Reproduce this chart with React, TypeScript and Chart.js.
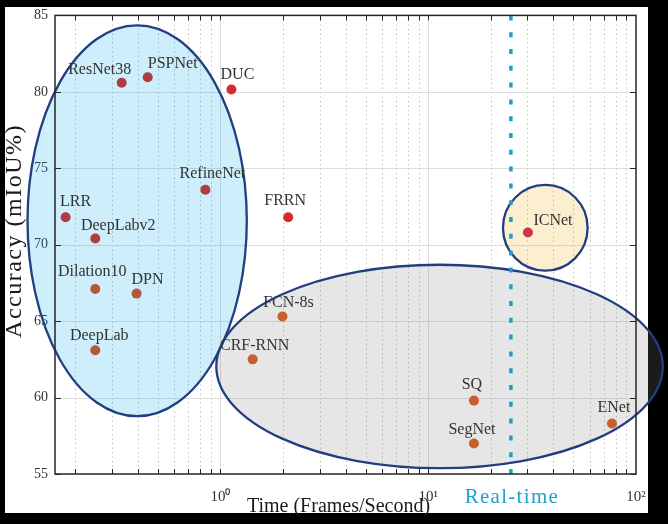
import React, { useEffect, useRef } from 'react';
import { Chart, registerables } from 'chart.js';
Chart.register(...registerables);

// ---- data ----
const models = ['ResNet38', 'PSPNet', 'DUC', 'RefineNet', 'LRR', 'DeepLabv2', 'Dilation10', 'DPN', 'DeepLab', 'CRF-RNN', 'FCN-8s', 'FRRN', 'ICNet', 'SQ', 'SegNet', 'ENet'];
const fps = [0.335, 0.447, 1.13, 0.847, 0.18, 0.25, 0.25, 0.395, 0.25, 1.43, 1.99, 2.12, 30.2, 16.6, 16.6, 76.6];
const miou = [80.6, 80.95, 80.15, 73.6, 71.8, 70.4, 67.1, 66.8, 63.1, 62.5, 65.3, 71.8, 70.8, 59.8, 57.0, 58.3];

const xMajorTicks = [1, 10, 100];
const xMinorMultipliers = [1, 2, 3, 4, 5, 6, 7, 8, 9];
const xDecades = [0.1, 1, 10];
const yTicks = [55, 60, 65, 70, 75, 80, 85];
const realTimeFps = 25;

// region ellipses (data-space bounds)
const regionXMin = [0.118, 0.956, 22.9];
const regionXMax = [1.34, 134.6, 58.5];
const regionYMin = [58.78, 55.38, 68.3];
const regionYMax = [84.35, 68.69, 73.91];

// ---- styles ----
const pointColors = ['#b13a44', '#b13a44', '#d42b2b', '#b13a44', '#b13a44', '#b13a44', '#b5573b', '#b5573b', '#b5573b', '#c8602e', '#c8602e', '#d42b2b', '#d03448', '#c8602e', '#c8602e', '#c8602e'];
const labelOffsets: [number, number][] = [[-22, -13], [25, -14], [6, -15], [7, -16], [10, -15], [23, -13], [-3, -17], [11, -14], [4, -14], [2, -14], [6, -14], [-3, -16], [25, -12], [-2, -16], [-2, -14], [2, -16]];
const regionFills = ['rgba(5,170,230,0.2)', 'rgba(128,128,128,0.2)', 'rgba(240,175,15,0.2)'];
const SERIF = '"Liberation Serif", "Times New Roman", serif';

const supDigits: Record<string, string> = { '0': '\u2070', '1': '\u00b9', '2': '\u00b2' };

const customPlugin = {
  id: 'customDraw',
  beforeDraw(chart: any) {
    const ctx = chart.ctx;
    const { left, right, top, bottom } = chart.chartArea;
    const xs = chart.scales.x;
    const ys = chart.scales.y;
    ctx.save();
    ctx.fillStyle = '#000';
    ctx.fillRect(0, 0, chart.width, chart.height);
    ctx.fillStyle = '#fff';
    ctx.fillRect(5, 7, 643, 506);
    // minor dotted grid
    ctx.lineWidth = 1;
    ctx.strokeStyle = '#c2c2c2';
    ctx.setLineDash([1.5, 3]);
    for (const d of xDecades) {
      for (const m of xMinorMultipliers) {
        const v = d * m;
        if (m === 1) continue;
        const px = Math.round(xs.getPixelForValue(v)) + 0.5;
        if (px <= left || px >= right) continue;
        ctx.beginPath();
        ctx.moveTo(px, top);
        ctx.lineTo(px, bottom);
        ctx.stroke();
      }
    }
    ctx.setLineDash([]);
    ctx.strokeStyle = '#dcdcdc';
    for (const v of xMajorTicks) {
      const px = Math.round(xs.getPixelForValue(v)) + 0.5;
      if (px <= left + 1 || px >= right - 1) continue;
      ctx.beginPath();
      ctx.moveTo(px, top);
      ctx.lineTo(px, bottom);
      ctx.stroke();
    }
    for (const v of yTicks) {
      const py = Math.round(ys.getPixelForValue(v)) + 0.5;
      if (py <= top + 1 || py >= bottom - 1) continue;
      ctx.beginPath();
      ctx.moveTo(left, py);
      ctx.lineTo(right, py);
      ctx.stroke();
    }
    ctx.restore();
  },
  beforeDatasetsDraw(chart: any) {
    const ctx = chart.ctx;
    const xs = chart.scales.x;
    const ys = chart.scales.y;
    const { top, bottom } = chart.chartArea;
    ctx.save();
    for (let i = 0; i < regionXMin.length; i++) {
      const x0 = xs.getPixelForValue(regionXMin[i]);
      const x1 = xs.getPixelForValue(regionXMax[i]);
      const y0 = ys.getPixelForValue(regionYMax[i]);
      const y1 = ys.getPixelForValue(regionYMin[i]);
      ctx.beginPath();
      ctx.ellipse((x0 + x1) / 2, (y0 + y1) / 2, (x1 - x0) / 2, (y1 - y0) / 2, 0, 0, Math.PI * 2);
      ctx.fillStyle = regionFills[i];
      ctx.fill();
      ctx.lineWidth = 2.3;
      ctx.strokeStyle = '#213f80';
      ctx.stroke();
    }
    // real-time line
    const rx = xs.getPixelForValue(realTimeFps);
    ctx.beginPath();
    ctx.setLineDash([5, 11.8]);
    ctx.lineWidth = 3.5;
    ctx.strokeStyle = '#1aa0c6';
    ctx.moveTo(rx, top);
    ctx.lineTo(rx, bottom);
    ctx.stroke();
    ctx.restore();
  },
  afterDatasetsDraw(chart: any) {
    const ctx = chart.ctx;
    const meta = chart.getDatasetMeta(0);
    ctx.save();
    ctx.font = `16px ${SERIF}`;
    ctx.fillStyle = '#333';
    ctx.textAlign = 'center';
    ctx.textBaseline = 'middle';
    meta.data.forEach((pt: any, i: number) => {
      const [dx, dy] = labelOffsets[i];
      ctx.fillText(models[i], pt.x + dx, pt.y + dy);
    });
    ctx.restore();
  },
  afterDraw(chart: any) {
    const ctx = chart.ctx;
    const { left, right, top, bottom } = chart.chartArea;
    const xs = chart.scales.x;
    const ys = chart.scales.y;
    ctx.save();
    // frame
    ctx.strokeStyle = '#262626';
    ctx.lineWidth = 1.5;
    ctx.strokeRect(left, top, right - left, bottom - top);
    ctx.lineWidth = 1;
    // x ticks (top & bottom, inward)
    for (const d of xDecades) {
      for (const m of xMinorMultipliers) {
        const v = d * m;
        const px = Math.round(xs.getPixelForValue(v)) + 0.5;
        if (px <= left + 1 || px >= right - 1) continue;
        ctx.beginPath();
        ctx.moveTo(px, bottom);
        ctx.lineTo(px, bottom - 5);
        ctx.moveTo(px, top);
        ctx.lineTo(px, top + 5);
        ctx.stroke();
      }
    }
    for (const v of yTicks) {
      const py = Math.round(ys.getPixelForValue(v)) + 0.5;
      ctx.beginPath();
      ctx.moveTo(left, py);
      ctx.lineTo(left + 6, py);
      ctx.moveTo(right, py);
      ctx.lineTo(right - 6, py);
      ctx.stroke();
    }
    // y title
    ctx.fillStyle = '#1a1a1a';
    ctx.save();
    ctx.translate(21, 231);
    ctx.rotate(-Math.PI / 2);
    ctx.font = `24px ${SERIF}`;
    (ctx as any).letterSpacing = '1.5px';
    ctx.textAlign = 'center';
    ctx.textBaseline = 'alphabetic';
    ctx.fillText('Accuracy (mIoU%)', 0, 0);
    ctx.restore();
    // x title
    ctx.font = `20px ${SERIF}`;
    ctx.textAlign = 'center';
    ctx.textBaseline = 'middle';
    ctx.fillText('Time (Frames/Second)', (left + right) / 2 - 7, 507);
    // real-time label
    ctx.fillStyle = '#1e9fcc';
    ctx.font = `21px ${SERIF}`;
    (ctx as any).letterSpacing = '1.3px';
    ctx.fillText('Real-time', xs.getPixelForValue(realTimeFps) + 1, 497);
    ctx.restore();
  },
};

export default function App() {
  const ref = useRef<HTMLCanvasElement>(null);
  useEffect(() => {
    document.body.style.margin = '0';
    document.body.style.background = '#000';
    const chart = new Chart(ref.current as HTMLCanvasElement, {
      type: 'scatter',
      data: {
        datasets: [
          {
            data: fps.map((x, i) => ({ x, y: miou[i] })),
            pointRadius: 5,
            pointHoverRadius: 5,
            pointBorderWidth: 0,
            pointBackgroundColor: pointColors,
          },
        ],
      },
      options: {
        animation: false,
        responsive: false,
        layout: { padding: { left: 0, right: 32, top: 14, bottom: 0 } },
        plugins: { legend: { display: false }, tooltip: { enabled: false } },
        scales: {
          x: {
            type: 'logarithmic',
            min: 0.16,
            max: 100,
            grid: { display: false, drawTicks: false },
            border: { display: false },
            afterBuildTicks: (s: any) => {
              s.ticks = xMajorTicks.map((v) => ({ value: v }));
            },
            afterFit: (s: any) => {
              s.height = 50;
            },
            ticks: {
              autoSkip: false,
              maxRotation: 0,
              padding: 14,
              color: '#333',
              font: { family: SERIF, size: 15 },
              callback: (v: any) => {
                const e = String(Math.round(Math.log10(Number(v))));
                return '10' + e.split('').map((c) => supDigits[c] || c).join('');
              },
            },
          },
          y: {
            type: 'linear',
            min: 55,
            max: 85,
            grid: { display: false, drawTicks: false },
            border: { display: false },
            afterFit: (s: any) => {
              s.width = 55;
            },
            ticks: {
              stepSize: 5,
              padding: 7,
              color: '#333',
              font: { family: SERIF, size: 14 },
            },
          },
        },
      },
      plugins: [customPlugin],
    });
    return () => chart.destroy();
  }, []);
  return (
    <div style={{ position: 'absolute', left: 0, top: 0, width: 668, height: 524 }}>
      <canvas ref={ref} width={668} height={524} style={{ display: 'block', width: 668, height: 524 }} />
    </div>
  );
}
